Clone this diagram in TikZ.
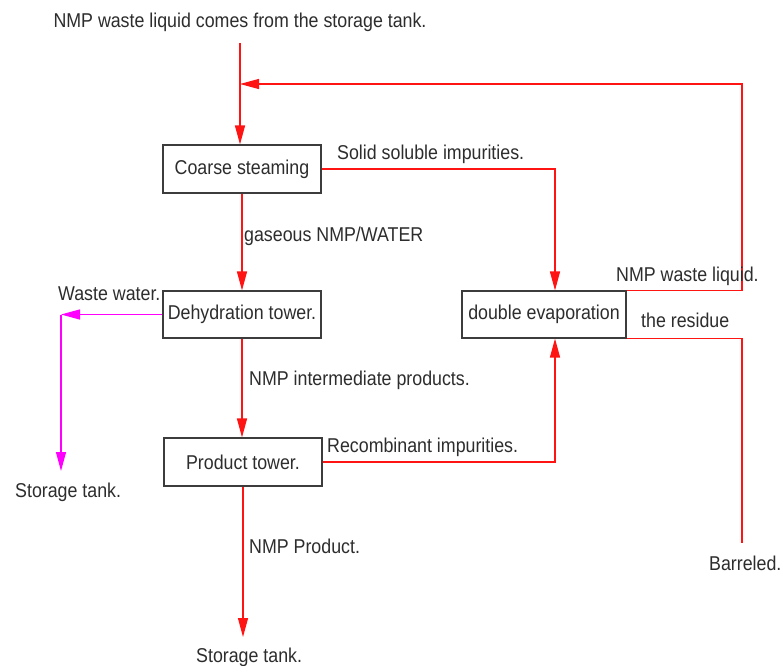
\documentclass[tikz,border=0pt]{standalone}
\usepackage{fontspec}
\setmainfont[FakeStretch=0.89]{Liberation Sans}
\usetikzlibrary{arrows.meta}
\definecolor{txt}{RGB}{45,45,45}
\definecolor{boxc}{RGB}{60,60,60}
\definecolor{ln}{RGB}{255,20,20}
\definecolor{mag}{RGB}{255,0,255}
\begin{document}
\begin{tikzpicture}[x=1pt,y=-1pt,
  every node/.style={font=\fontsize{20}{23}\selectfont, text=txt},
  box/.style={draw=boxc, line width=1.1pt, minimum width=158pt, minimum height=48pt, inner sep=0pt},
  lbl/.style={anchor=base west, inner sep=0pt},
  flow/.style={draw=ln, line width=1.3pt},
  arr/.style={flow, -{Triangle[length=19pt,width=10pt]}},
  marr/.style={draw=mag, line width=1.3pt, -{Triangle[length=19pt,width=10pt]}}]
\fill[white] (0,0) rectangle (784,666);
\useasboundingbox (0,0) rectangle (784,666);

% boxes
\node[box] (coarse) at (242,169) {Coarse steaming};
\node[box, minimum height=47pt] (dehyd) at (242,314.5) {Dehydration tower.};
\node[box, minimum width=164pt, minimum height=47pt] (evap) at (544,314.5) {double evaporation};
\node[box] (prod) at (243,462) {Product tower.};

% free ends
\coordinate (src) at (240,43);
\coordinate (fbR) at (742,84);
\coordinate (fbL) at (240,84);
\coordinate (wwc) at (61,314.5);
\coordinate (wwend) at (61,471);
\coordinate (barrel) at (742,543);
\coordinate (st) at (243,637);

% connectors
\draw[arr] (src) -- (src |- coarse.north);
\draw[arr] (evap.north east) -| (fbR) -- (fbL);
\draw[arr] (coarse.east) -| ([xshift=11pt]evap.north);
\draw[arr] (coarse.south) -- (coarse.south |- dehyd.north);
\draw[marr] (dehyd.west) -- (wwc);
\draw[marr] (wwc) -- (wwend);
\draw[arr] (dehyd.south) -- (dehyd.south |- prod.north);
\draw[arr] (prod.east) -| ([xshift=11pt]evap.south);
\draw[flow] (evap.south east) -| (barrel);
\draw[arr] (prod.south) -- (st);

% labels
\node[anchor=base, inner sep=0pt] (t0) at (240,28) {NMP waste liquid comes from the storage tank.};
\node[lbl] (t1) at (337,159) {Solid soluble impurities.};
\node[lbl] (t2) at (244,241) {gaseous NMP/WATER};
\node[lbl] (t3) at (58,300) {Waste water.};
\node[lbl] (t4) at (249,385) {NMP intermediate products.};
\node[lbl] (t5) at (616,281) {NMP waste liquid.};
\node[lbl] (t6) at (641,327) {the residue};
\node[lbl] (t7) at (327,452) {Recombinant impurities.};
\node[lbl] (t8) at (15,497) {Storage tank.};
\node[lbl] (t9) at (249,553) {NMP Product.};
\node[lbl] (t10) at (196,662) {Storage tank.};
\node[lbl] (t11) at (709,570) {Barreled.};
\end{tikzpicture}
\end{document}
